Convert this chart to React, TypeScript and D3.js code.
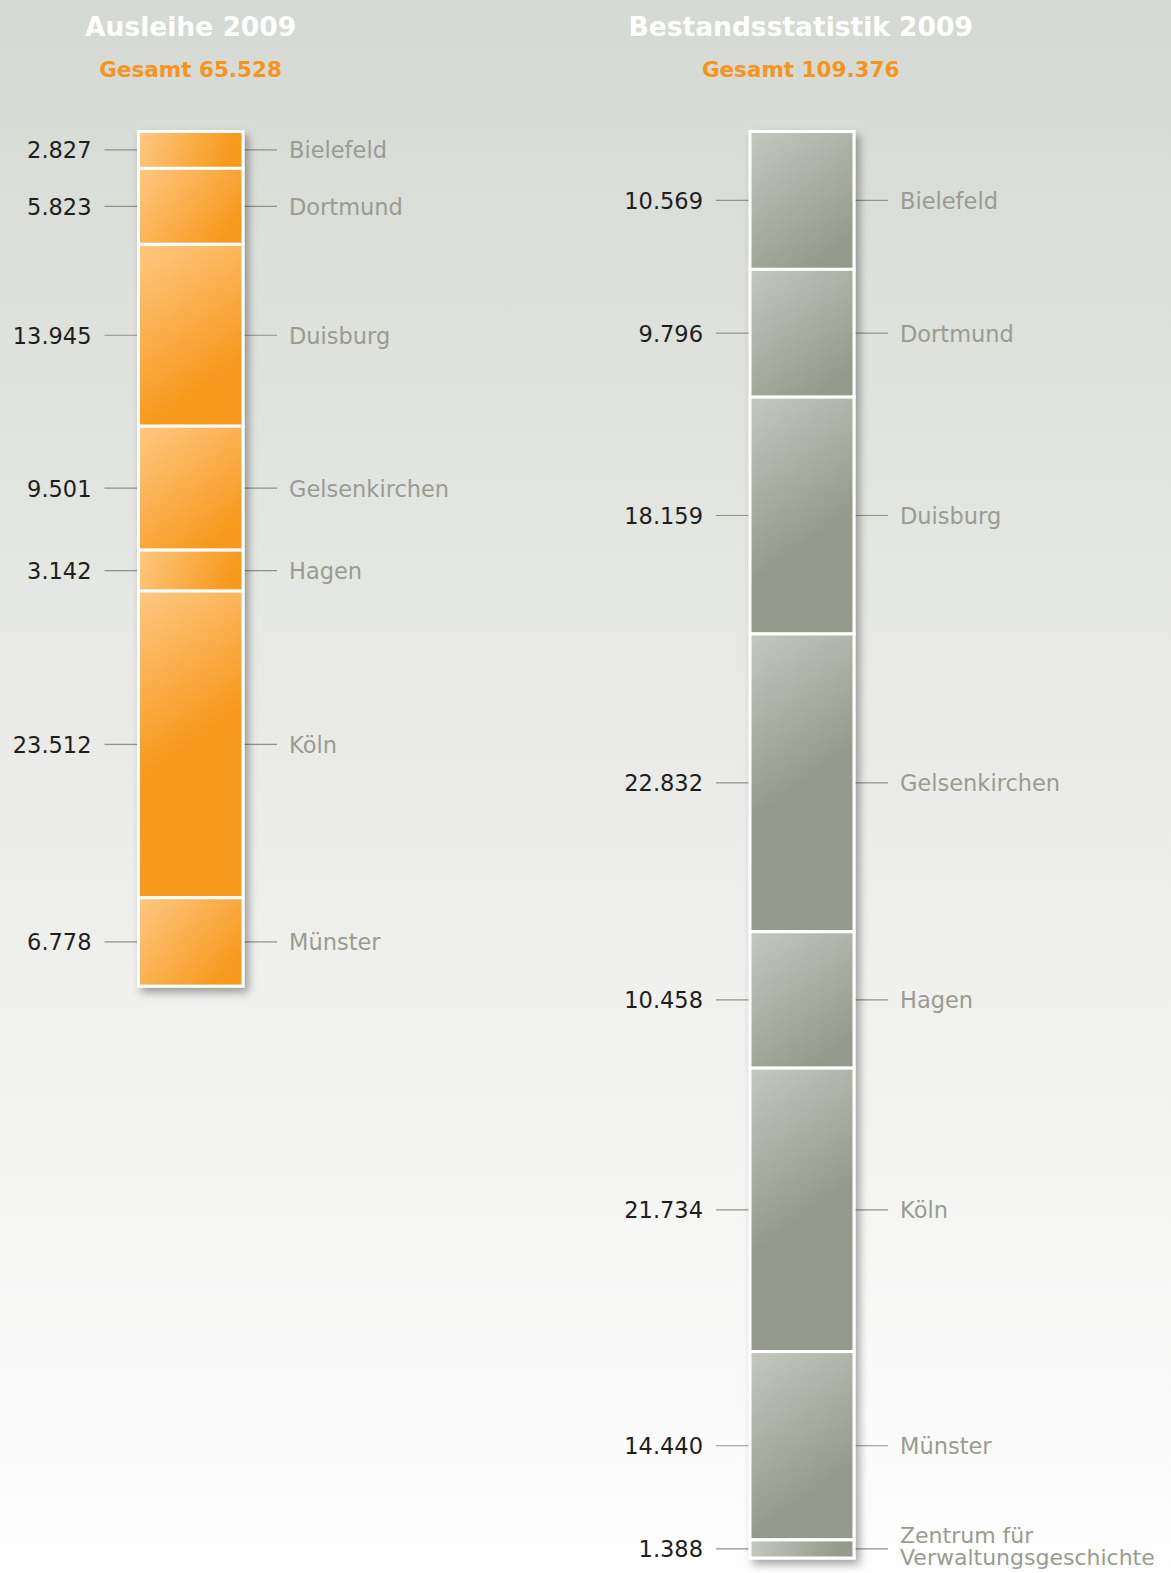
import React from "react";
import * as d3 from "d3";

const ausleiheCategories = ["Bielefeld", "Dortmund", "Duisburg", "Gelsenkirchen", "Hagen", "Köln", "Münster"];
const ausleiheValues = [2827, 5823, 13945, 9501, 3142, 23512, 6778];
const bestandCategories = ["Bielefeld", "Dortmund", "Duisburg", "Gelsenkirchen", "Hagen", "Köln", "Münster", "Zentrum für\nVerwaltungsgeschichte"];
const bestandValues = [10569, 9796, 18159, 22832, 10458, 21734, 14440, 1388];
const titles = ["Ausleihe 2009", "Bestandsstatistik 2009"];

const W = 1171;
const H = 1573;
const locale = d3.formatLocale({ decimal: ",", thousands: ".", grouping: [3], currency: ["", "€"] });
const fmt = locale.format(",d");

const FONT = "'DejaVu Sans', 'Liberation Sans', sans-serif";

type Col = {
  key: string;
  title: string;
  cats: string[];
  vals: number[];
  center: number;
  barX0: number;
  barX1: number;
  numRight: number;
  light: string;
  dark: string;
};

const cols: Col[] = [
  { key: "a", title: titles[0], cats: ausleiheCategories, vals: ausleiheValues, center: 190.6, barX0: 138.5, barX1: 243, numRight: 91.5, light: "#fec882", dark: "#f7991e" },
  { key: "b", title: titles[1], cats: bestandCategories, vals: bestandValues, center: 800.7, barX0: 750, barX1: 854, numRight: 703, light: "#c4c8bd", dark: "#959a8c" },
];

const maxTotal = d3.max(cols, (c) => d3.sum(c.vals)) as number;
const y = d3.scaleLinear().domain([0, maxTotal]).range([131.5, 1558]);

function Column({ c }: { c: Col }) {
  const total = d3.sum(c.vals);
  const cum = d3.cumsum(c.vals);
  const segs = c.vals.map((v, i) => ({ v, cat: c.cats[i], y0: y(cum[i] - v), y1: y(cum[i]) }));
  const lineL0 = c.numRight + 13;
  const lineR1 = c.barX1 + 34;
  const labelX = c.barX1 + 46;
  const w = c.barX1 - c.barX0;
  return (
    <g>
      <defs>
        {segs.map((s, i) => (
          <linearGradient
            key={i}
            id={`g-${c.key}-${i}`}
            gradientUnits="userSpaceOnUse"
            x1={c.barX0}
            y1={s.y0}
            x2={c.barX1}
            y2={s.y0 + Math.min(s.y1 - s.y0, w * 1.4)}
          >
            <stop offset="0" stopColor={c.light} />
            <stop offset="0.85" stopColor={c.dark} />
            <stop offset="1" stopColor={c.dark} />
          </linearGradient>
        ))}
      </defs>
      <text x={c.center} y={36} textAnchor="middle" fill="#ffffff" fontFamily={FONT} fontWeight="bold" fontSize={26.5}>
        {c.title}
      </text>
      <text x={c.center} y={77} textAnchor="middle" fill="#f7941d" fontFamily={FONT} fontWeight="bold" fontSize={21.5}>
        {"Gesamt " + fmt(total)}
      </text>
      {segs.map((s, i) => {
        const my = (s.y0 + s.y1) / 2;
        const lines = s.cat.split("\n");
        return (
          <g key={i}>
            <line x1={lineL0} x2={c.barX0} y1={my} y2={my} stroke="#8e9388" strokeWidth={1.2} />
            <line x1={c.barX1} x2={lineR1} y1={my} y2={my} stroke="#8e9388" strokeWidth={1.2} />
            <text x={c.numRight} y={my} dy="0.38em" textAnchor="end" fill="#1e1e1e" fontFamily={FONT} fontSize={22.5}>
              {fmt(s.v)}
            </text>
            {lines.length === 1 ? (
              <text x={labelX} y={my} dy="0.38em" fill="#999c91" fontFamily={FONT} fontSize={22.5}>
                {s.cat}
              </text>
            ) : (
              <text x={labelX} y={my} fill="#999c91" fontFamily={FONT} fontSize={22}>
                {lines.map((l, j) => (
                  <tspan key={j} x={labelX} dy={j === 0 ? "-0.25em" : "1.0em"}>
                    {l}
                  </tspan>
                ))}
              </text>
            )}
          </g>
        );
      })}
      <g filter="url(#shadow)">
        {segs.map((s, i) => (
          <rect
            key={i}
            x={c.barX0}
            y={s.y0}
            width={w}
            height={s.y1 - s.y0}
            fill={`url(#g-${c.key}-${i})`}
            stroke="#ffffff"
            strokeWidth={3}
          />
        ))}
      </g>
    </g>
  );
}

export default function App() {
  return (
    <svg width={W} height={H} style={{ position: "absolute", left: 0, top: 0, display: "block" }}>
      <defs>
        <linearGradient id="bg" x1="0" y1="0" x2="0" y2="1">
          <stop offset="0" stopColor="#d5d9d3" />
          <stop offset="0.5" stopColor="#ebece9" />
          <stop offset="1" stopColor="#fefefe" />
        </linearGradient>
        <filter id="shadow" x="-20%" y="-5%" width="150%" height="115%">
          <feDropShadow dx={4} dy={5} stdDeviation={4} floodColor="#000" floodOpacity={0.35} />
        </filter>
      </defs>
      <rect x={0} y={0} width={W} height={H} fill="url(#bg)" />
      {cols.map((c, i) => (
        <Column key={i} c={c} />
      ))}
    </svg>
  );
}
